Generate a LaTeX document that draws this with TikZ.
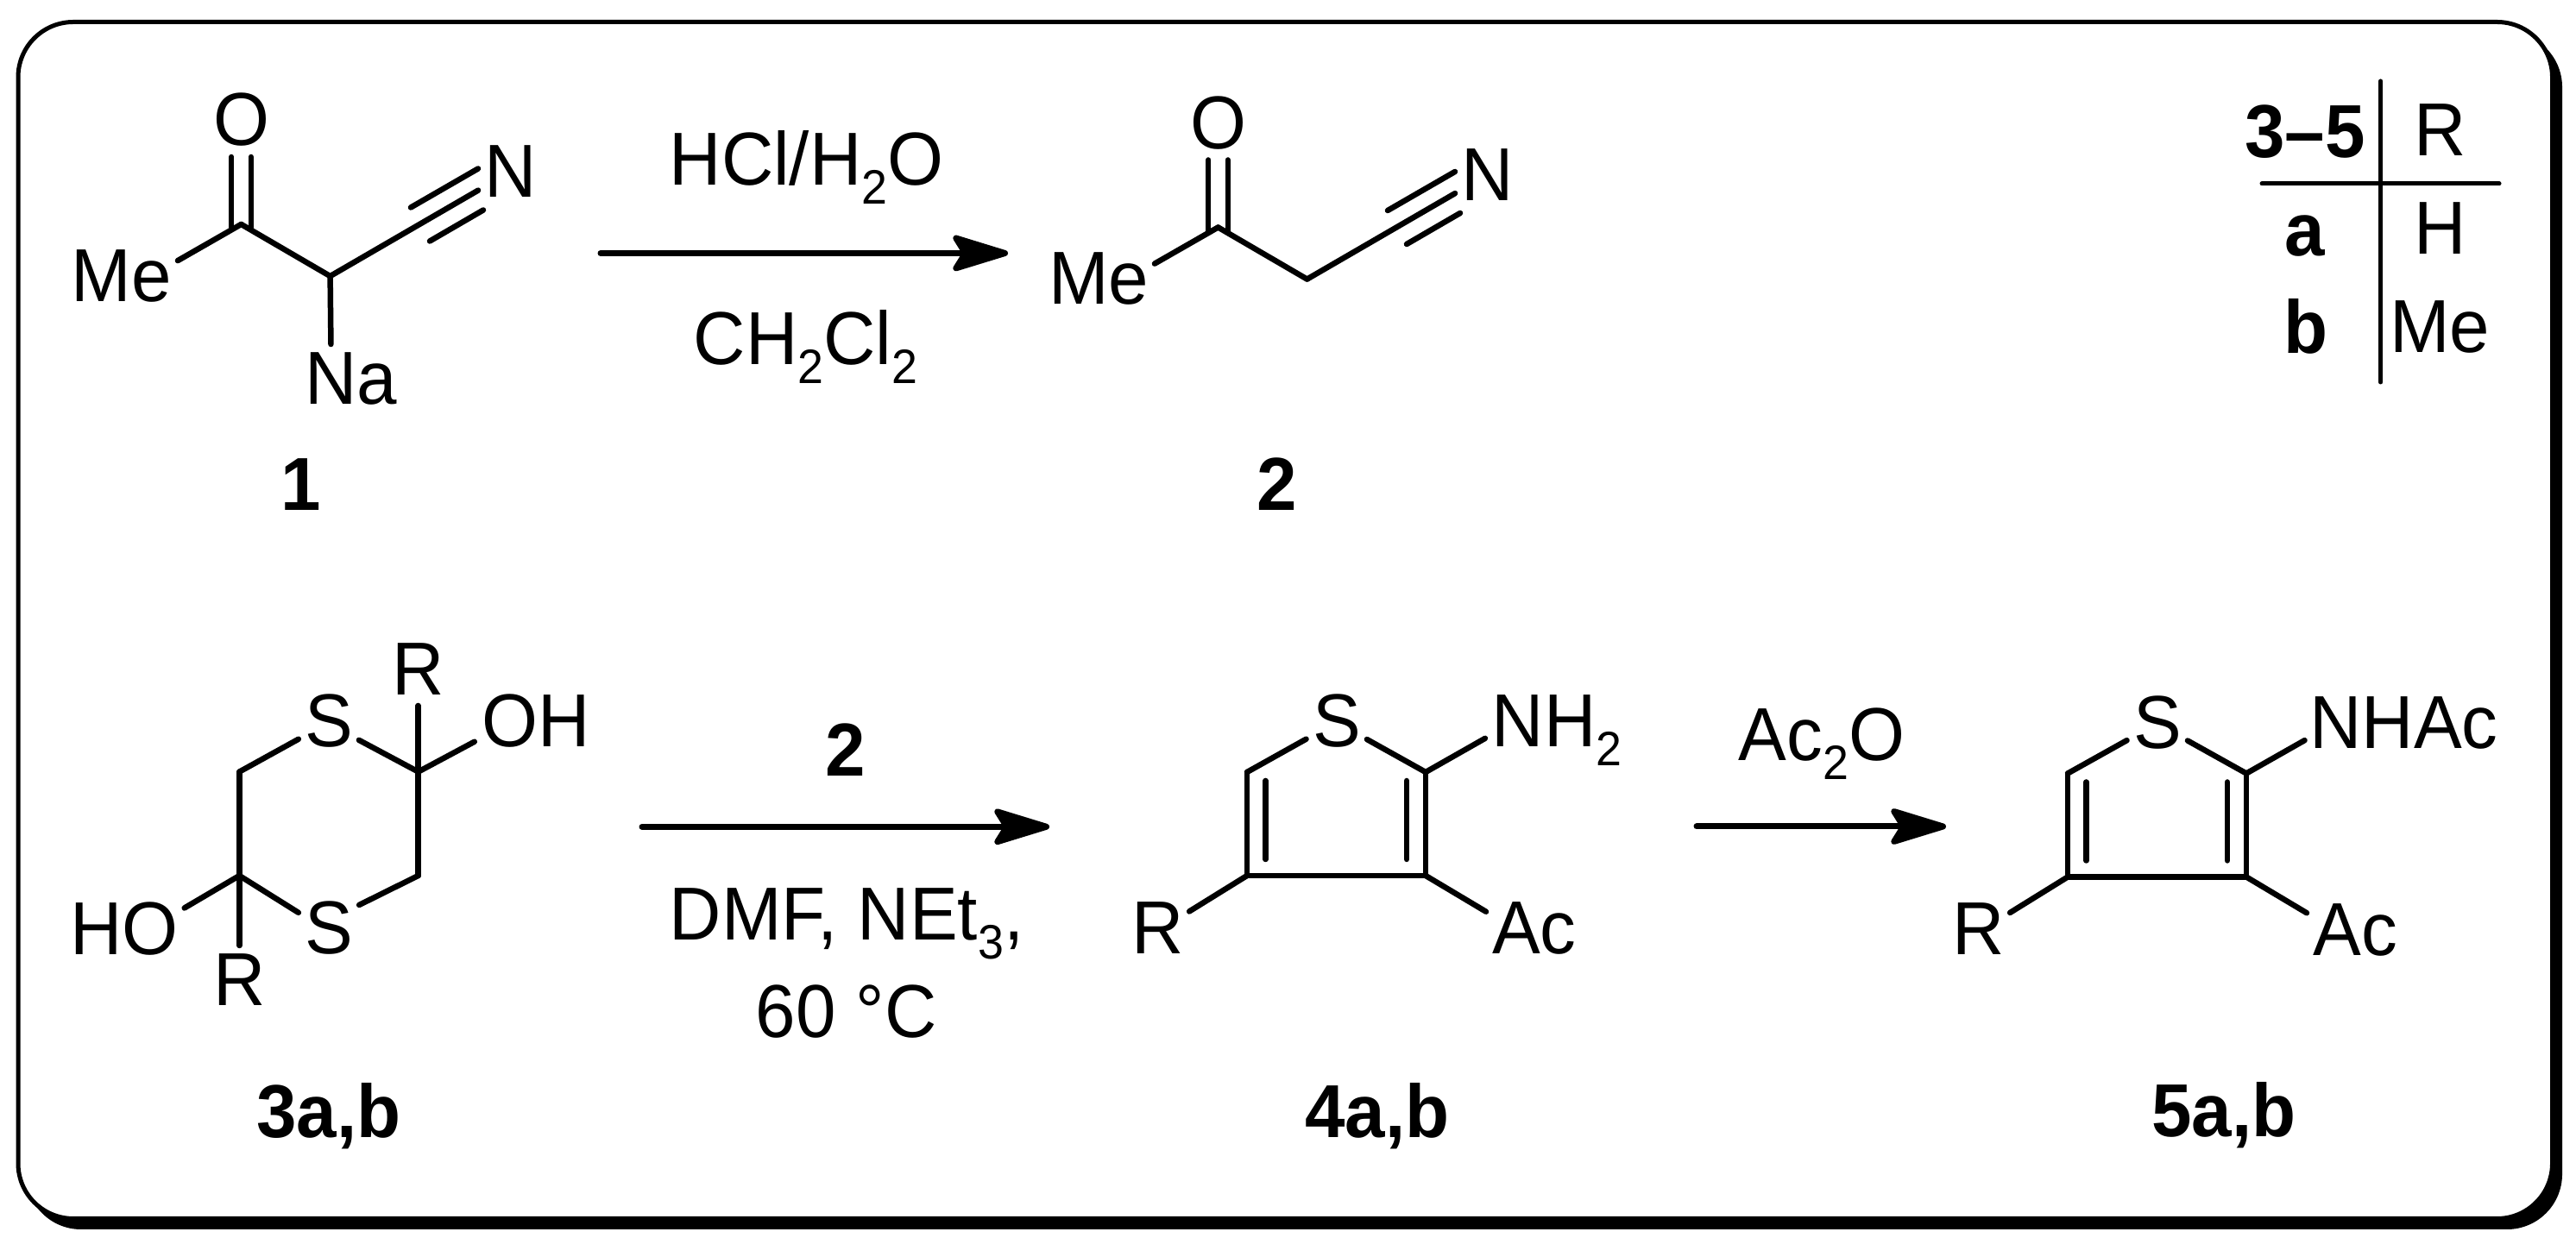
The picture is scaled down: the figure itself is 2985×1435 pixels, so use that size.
\documentclass[tikz,border=0pt]{standalone}
\usepackage{fontspec}
\setmainfont{Liberation Sans}[FakeStretch=0.96]
\usepackage{tikz}
\usetikzlibrary{arrows.meta}
\newcommand{\chemfont}{\fontsize{87bp}{100bp}\selectfont}
\newcommand{\subnum}[1]{\raisebox{-22bp}{\fontsize{56bp}{60bp}\selectfont #1}}
\tikzset{atom/.style={inner sep=0pt, outer sep=0pt, anchor=base, text height=60bp, text depth=0bp, font=\chemfont},
  cmpd/.style={atom, font=\chemfont\bfseries},
  bond/.style={line width=6.5bp, line cap=round},
  rule/.style={line width=5bp, line cap=round},
  rxn/.style={->, line width=7bp, line cap=round},
  frame/.style={line width=5bp, rounded corners=64bp, fill=white}}

\begin{document}
\begin{tikzpicture}[>={Stealth[round,length=76bp,width=46bp,inset=14bp]},line join=bevel,]
\useasboundingbox (0bp,0bp) rectangle (2985bp,1435bp);
%% box
\fill [black, rounded corners=64bp] (30.0bp,10.0bp) rectangle (2969.0bp,1398.0bp);
\draw [frame] (21.0bp,22.5bp) rectangle (2957.5bp,1409.5bp);
%% 1
\coordinate (c_1) at (279.5bp,1175.0bp);
\coordinate (ch_1) at (382.6bp,1114.9bp);
\coordinate (tu_1a) at (476.0bp,1194.5bp);
\coordinate (tu_1b) at (554.0bp,1239.5bp);
\coordinate (tl_1a) at (498.0bp,1155.5bp);
\coordinate (tl_1b) at (560.0bp,1191.5bp);
\node (o_1) at (279.5bp,1266.0bp) [atom] {O};
\node (n_1) at (591.5bp,1206.0bp) [atom] {N};
\node (me_1) at (141.0bp,1085.5bp) [atom] {Me};
\node (na_1) at (407.0bp,966.0bp) [atom] {Na};
\node (l_1) at (349.0bp,843.0bp) [cmpd] {1};
\draw [bond,shorten >=13bp] ([shift={(-11.3bp,-4bp)}]c_1) -- ([xshift=-11.3bp]o_1.south);
\draw [bond,shorten >=13bp] ([shift={(11.3bp,-4bp)}]c_1) -- ([xshift=11.3bp]o_1.south);
\draw [bond,shorten >=8bp] (c_1) -- (me_1.13);
\draw [bond] (c_1) -- (ch_1);
\draw [bond,shorten >=10bp] (ch_1) -- (na_1.128);
\draw [bond,shorten >=8.4bp] (ch_1) -- (n_1.210);
\draw [bond] (tu_1a) -- (tu_1b);
\draw [bond] (tl_1a) -- (tl_1b);
%% first reaction
\coordinate (a_1) at (696.0bp,1141.5bp);
\coordinate (b_1) at (1168.0bp,1141.5bp);
\draw [rxn] (a_1) -- (b_1);
\node (hcl) at (934.5bp,1220.0bp) [atom] {HCl/H\subnum{2}O};
\node (dcm) at (933.5bp,1012.0bp) [atom] {CH\subnum{2}Cl\subnum{2}};
%% 2
\coordinate (c_2) at (1411.5bp,1171.5bp);
\coordinate (ch_2) at (1514.6bp,1111.4bp);
\coordinate (tu_2a) at (1608.0bp,1191.0bp);
\coordinate (tu_2b) at (1686.0bp,1236.0bp);
\coordinate (tl_2a) at (1630.0bp,1152.0bp);
\coordinate (tl_2b) at (1692.0bp,1188.0bp);
\node (o_2) at (1411.5bp,1262.5bp) [atom] {O};
\node (n_2) at (1723.5bp,1202.5bp) [atom] {N};
\node (me_2) at (1273.0bp,1082.0bp) [atom] {Me};
\node (l_2) at (1480.0bp,843.0bp) [cmpd] {2};
\draw [bond,shorten >=13bp] ([shift={(-11.3bp,-4bp)}]c_2) -- ([xshift=-11.3bp]o_2.south);
\draw [bond,shorten >=13bp] ([shift={(11.3bp,-4bp)}]c_2) -- ([xshift=11.3bp]o_2.south);
\draw [bond,shorten >=8bp] (c_2) -- (me_2.13);
\draw [bond] (c_2) -- (ch_2);
\draw [bond,shorten >=8.4bp] (ch_2) -- (n_2.210);
\draw [bond] (tu_2a) -- (tu_2b);
\draw [bond] (tl_2a) -- (tl_2b);
%% table
\coordinate (tv_a) at (2758.6bp,1341.0bp);
\coordinate (tv_b) at (2758.6bp,992.0bp);
\coordinate (th_a) at (2621.0bp,1222.0bp);
\coordinate (th_b) at (2896.0bp,1222.0bp);
\draw [rule] (tv_a) -- (tv_b);
\draw [rule] (th_a) -- (th_b);
\node (t_head) at (2671.0bp,1252.0bp) [cmpd] {3--5};
\node (t_r) at (2828.0bp,1254.0bp) [atom] {R};
\node (t_a) at (2671.0bp,1138.5bp) [cmpd] {a};
\node (t_h) at (2828.0bp,1140.0bp) [atom] {H};
\node (t_b) at (2672.0bp,1025.0bp) [cmpd] {b};
\node (t_me) at (2827.0bp,1026.0bp) [atom] {Me};
%% 3a,b
\coordinate (c_3a) at (277.4bp,540.4bp);
\coordinate (c_3b) at (484.7bp,540.4bp);
\coordinate (c_3c) at (484.7bp,420.0bp);
\coordinate (c_3d) at (277.4bp,420.0bp);
\node (s_3a) at (381.0bp,569.0bp) [atom] {S};
\node (s_3b) at (381.0bp,329.0bp) [atom] {S};
\node (r_3a) at (484.7bp,629.5bp) [atom] {R};
\node (r_3b) at (277.4bp,269.0bp) [atom] {R};
\node (oh_3) at (621.0bp,569.0bp) [atom] {OH};
\node (ho_3) at (144.0bp,328.0bp) [atom] {HO};
\node (l_3) at (381.0bp,116.0bp) [cmpd] {3a,b};
\draw [bond,shorten >=8.3bp] (c_3a) -- (s_3a.211);
\draw [bond,shorten >=8bp] (c_3b) -- (s_3a.327);
\draw [bond] (c_3b) -- (c_3c);
\draw [bond,shorten >=8.2bp] (c_3c) -- (s_3b.40);
\draw [bond,shorten >=8.6bp] (c_3d) -- (s_3b.154);
\draw [bond] (c_3d) -- (c_3a);
\draw [bond,shorten >=12.5bp] (c_3b) -- (r_3a.south);
\draw [bond,shorten >=9.7bp] (c_3b) -- (oh_3.197);
\draw [bond,shorten >=10bp] (c_3d) -- (r_3b.north);
\draw [bond,shorten >=8.2bp] (c_3d) -- (ho_3.18);
%% second reaction
\coordinate (a_2) at (744.0bp,476.7bp);
\coordinate (b_2) at (1216.0bp,476.7bp);
\draw [rxn] (a_2) -- (b_2);
\node (two) at (980.0bp,535.0bp) [cmpd] {2};
\node (dmf) at (981.0bp,345.0bp) [atom] {DMF, NEt\subnum{3},};
\node (temp) at (980.5bp,232.0bp) [atom] {60 °C};
%% 4a,b
\coordinate (c_4a) at (1445.0bp,540.0bp);
\coordinate (c_4b) at (1652.0bp,540.0bp);
\coordinate (c_4c) at (1652.0bp,420.0bp);
\coordinate (c_4d) at (1445.0bp,420.0bp);
\node (s_4) at (1549.6bp,569.0bp) [atom] {S};
\node (nh_4) at (1804.0bp,569.6bp) [atom] {NH\subnum{2}};
\node (r_4) at (1342.0bp,329.5bp) [atom] {R};
\node (ac_4) at (1778.0bp,329.0bp) [atom] {Ac};
\node (l_4) at (1596.0bp,116.0bp) [cmpd] {4a,b};
\draw [bond,shorten >=9.4bp] (c_4a) -- (s_4.210);
\draw [bond,shorten >=7.4bp] (c_4b) -- (s_4.328);
\draw [bond] (c_4a) -- (c_4d);
\draw [bond] ([shift={(21.5bp,-10bp)}]c_4a) -- ([shift={(21.5bp,19bp)}]c_4d);
\draw [bond] (c_4d) -- (c_4c);
\draw [bond] (c_4c) -- (c_4b);
\draw [bond] ([shift={(-22bp,-10bp)}]c_4b) -- ([shift={(-22bp,19bp)}]c_4c);
\draw [bond,shorten >=9bp] (c_4b) -- (nh_4.192);
\draw [bond,shorten >=7bp] (c_4d) -- (r_4.27);
\draw [bond,shorten >=8.5bp] (c_4c) -- (ac_4.163);
%% third reaction
\coordinate (a_3) at (1966.0bp,477.0bp);
\coordinate (b_3) at (2255.0bp,477.0bp);
\draw [rxn] (a_3) -- (b_3);
\node (ac2o) at (2111.0bp,553.0bp) [atom] {Ac\subnum{2}O};
%% 5a,b
\coordinate (c_5a) at (2396.0bp,538.5bp);
\coordinate (c_5b) at (2603.0bp,538.5bp);
\coordinate (c_5c) at (2603.0bp,418.5bp);
\coordinate (c_5d) at (2396.0bp,418.5bp);
\node (s_5) at (2500.6bp,567.5bp) [atom] {S};
\node (nh_5) at (2785.5bp,567.5bp) [atom] {NHAc};
\node (r_5) at (2293.0bp,328.0bp) [atom] {R};
\node (ac_5) at (2729.0bp,327.5bp) [atom] {Ac};
\node (l_5) at (2577.0bp,117.0bp) [cmpd] {5a,b};
\draw [bond,shorten >=9.4bp] (c_5a) -- (s_5.210);
\draw [bond,shorten >=7.4bp] (c_5b) -- (s_5.328);
\draw [bond] (c_5a) -- (c_5d);
\draw [bond] ([shift={(21.5bp,-10bp)}]c_5a) -- ([shift={(21.5bp,19bp)}]c_5d);
\draw [bond] (c_5d) -- (c_5c);
\draw [bond] (c_5c) -- (c_5b);
\draw [bond] ([shift={(-22bp,-10bp)}]c_5b) -- ([shift={(-22bp,19bp)}]c_5c);
\draw [bond,shorten >=6.8bp] (c_5b) -- (nh_5.189);
\draw [bond,shorten >=7bp] (c_5d) -- (r_5.27);
\draw [bond,shorten >=8.5bp] (c_5c) -- (ac_5.163);
%
\end{tikzpicture}
\end{document}
